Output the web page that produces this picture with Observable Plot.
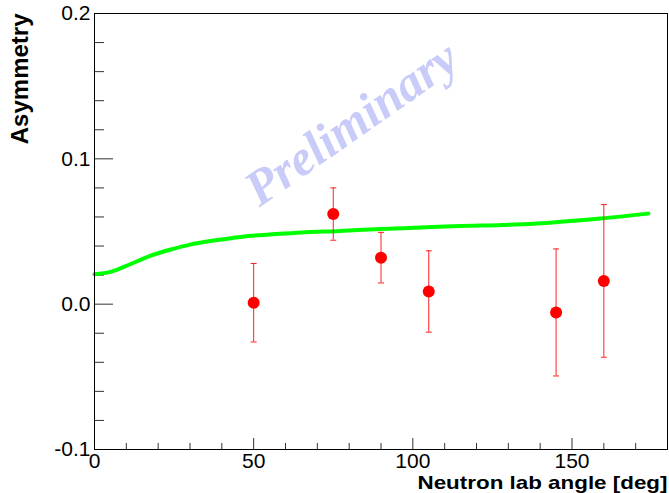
<!DOCTYPE html>
<html>
<head>
<meta charset="utf-8">
<script src="https://cdn.jsdelivr.net/npm/d3@7"></script>
<script src="https://cdn.jsdelivr.net/npm/@observablehq/plot@0.6"></script>
<style>
  html, body { margin: 0; padding: 0; background: #fff; }
</style>
</head>
<body>
<div id="chart"></div>
<script>
// Measured data points
const angles = [50, 75, 90, 105, 145, 160];
const asymmetry = [0.001, 0.062, 0.032, 0.0087, -0.0057, 0.016];
const errors = [0.027, 0.018, 0.0174, 0.028, 0.0437, 0.0525];

// Theory curve
const curveAngles = [0, 5, 11, 17.5, 24, 30, 36.5, 43, 49, 55, 65, 77, 90, 102.5, 115, 128, 143, 159, 174];
const curveAsym = [0.0206, 0.0222, 0.0273, 0.0332, 0.0376, 0.041, 0.0435, 0.0454, 0.047, 0.0479, 0.0493, 0.0504, 0.0518, 0.0527, 0.0538, 0.0545, 0.0561, 0.0589, 0.0623];

// Axis ticks
const xMajor = [0, 50, 100, 150];
const xMinor = [10, 20, 30, 40, 60, 70, 80, 90, 110, 120, 130, 140, 160, 170];
const yMajor = [-0.1, 0, 0.1, 0.2];
const yMinor = [-0.08, -0.06, -0.04, -0.02, 0.02, 0.04, 0.06, 0.08, 0.12, 0.14, 0.16, 0.18];

const xTitle = "Neutron lab angle [deg]";
const yTitle = "Asymmetry";
const watermark = "Preliminary";

const points = angles.map((a, i) => ({angle: a, asym: asymmetry[i], err: errors[i]}));
const caps = points.flatMap(p => [
  {angle: p.angle, asym: p.asym + p.err},
  {angle: p.angle, asym: p.asym - p.err}
]);
const curve = curveAngles.map((a, i) => ({angle: a, asym: curveAsym[i]}));

const capSymbol = {
  draw(context) {
    context.moveTo(-3, 0);
    context.lineTo(3, 0);
  }
};

const chart = Plot.plot({
  width: 669,
  height: 493,
  marginLeft: 94,
  marginRight: 2,
  marginTop: 13,
  marginBottom: 44,
  style: {
    fontFamily: "Liberation Sans, Arial, sans-serif",
    fontSize: "21px",
    background: "#fff",
    color: "#000"
  },
  x: {domain: [0, 180]},
  y: {domain: [-0.1, 0.2]},
  marks: [
    Plot.text([watermark], {
      frameAnchor: "top-left",
      dx: 257, dy: 110,
      rotate: -35,
      textAnchor: "middle",
      lineAnchor: "middle",
      fontFamily: "Liberation Serif, Times New Roman, serif",
      fontStyle: "italic",
      fontWeight: "bold",
      fontSize: 50,
      fill: "#c9cbf8"
    }),
    Plot.axisY(yMajor, {tickSize: -19, tickPadding: 23, tickFormat: d => d.toFixed(1), label: null, stroke: "#333"}),
    Plot.axisY(yMinor, {tickSize: -10, fill: "none", label: null, stroke: "#333"}),
    Plot.axisX(xMajor, {tickSize: -11, tickPadding: 15, tickFormat: d => String(d), label: null, stroke: "#333"}),
    Plot.axisX(xMinor, {tickSize: -6, fill: "none", label: null, stroke: "#333"}),
    Plot.line(curve, {x: "angle", y: "asym", stroke: "#00ff00", strokeWidth: 4, curve: "monotone-x"}),
    Plot.ruleX(points, {x: "angle", y1: d => d.asym - d.err, y2: d => d.asym + d.err, stroke: "#ff2020", strokeWidth: 1}),
    Plot.dot(caps, {x: "angle", y: "asym", symbol: capSymbol, stroke: "#ff2020", fill: "none", strokeWidth: 1}),
    Plot.dot(points, {x: "angle", y: "asym", r: 6, fill: "#ff0000", stroke: "none"}),
    Plot.frame({stroke: "#000", strokeWidth: 1}),
    Plot.text([yTitle], {
      frameAnchor: "top-left",
      dx: -84, dy: 0,
      rotate: -90,
      textAnchor: "end",
      lineAnchor: "top",
      fontWeight: "bold",
      fontSize: 24,
      fill: "#000"
    }),
    Plot.text([xTitle], {
      frameAnchor: "bottom-right",
      dx: 0, dy: 33,
      textAnchor: "end",
      lineAnchor: "middle",
      fontWeight: "bold",
      fontSize: 19,
      fill: "#000"
    })
  ]
});

// The reference's x title is drawn wide: stretch it to the same span
chart.querySelectorAll("text").forEach(t => {
  if (t.textContent === xTitle) {
    t.setAttribute("textLength", 250);
    t.setAttribute("lengthAdjust", "spacingAndGlyphs");
  }
});

document.getElementById("chart").appendChild(chart);
</script>
</body>
</html>
